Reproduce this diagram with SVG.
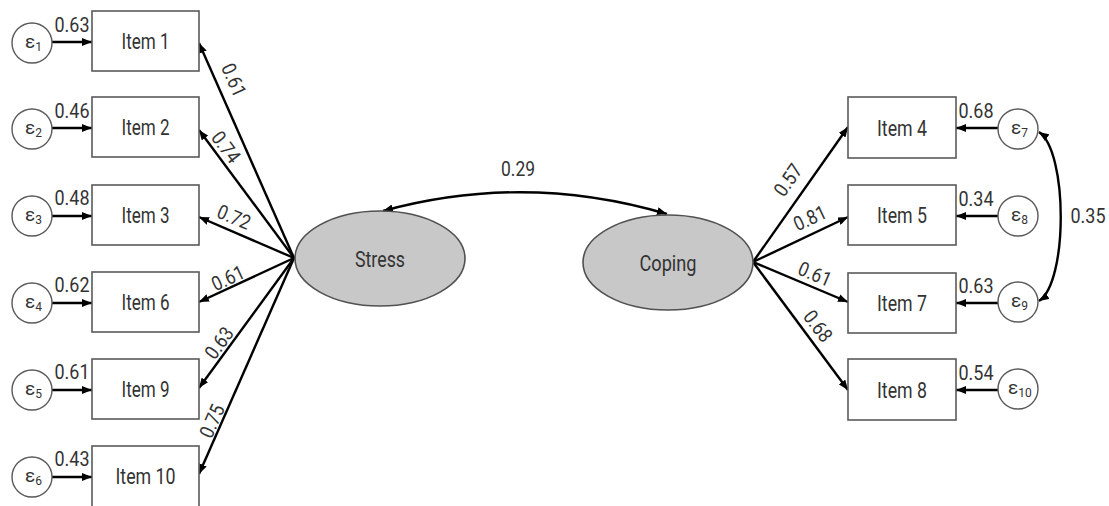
<svg xmlns="http://www.w3.org/2000/svg" width="1109" height="506" viewBox="0 0 1109 506">
<style>
.box{fill:#fff;stroke:#5a5a5a;stroke-width:1.6}
.err{fill:#fff;stroke:#5a5a5a;stroke-width:1.4}
.lat{fill:#c8c8c8;stroke:#505050;stroke-width:1.6}
.ln{fill:none;stroke:#000;stroke-width:2.4;marker-end:url(#ah)}
.cv{fill:none;stroke:#000;stroke-width:2.4;marker-start:url(#ah2);marker-end:url(#ah)}
text{font-family:Roboto,"Liberation Sans",sans-serif;fill:#333}
.it{font-size:22px;text-anchor:middle}
.num{font-size:20px;text-anchor:middle}
.eps{font-size:19px}
.sub{font-size:12px}
</style>
<defs>
<marker id="ah" markerUnits="userSpaceOnUse" markerWidth="10" markerHeight="8" refX="10" refY="4" orient="auto"><path d="M0,0 L10,4 L0,8 z" fill="#000"/></marker>
<marker id="ah2" markerUnits="userSpaceOnUse" markerWidth="10" markerHeight="8" refX="10" refY="4" orient="auto-start-reverse"><path d="M0,0 L10,4 L0,8 z" fill="#000"/></marker>
</defs>
<g id="connectors">
<!-- error arrows left -->
<line class="ln" x1="52" y1="42" x2="92" y2="42"/>
<line class="ln" x1="52" y1="128" x2="92" y2="128"/>
<line class="ln" x1="52" y1="216" x2="92" y2="216"/>
<line class="ln" x1="52" y1="303" x2="92" y2="303"/>
<line class="ln" x1="52" y1="390" x2="92" y2="390"/>
<line class="ln" x1="52" y1="477" x2="92" y2="477"/>
<!-- loadings Stress -->
<line class="ln" x1="294" y1="258" x2="199" y2="43"/>
<line class="ln" x1="294" y1="258" x2="199" y2="130"/>
<line class="ln" x1="294" y1="258" x2="199" y2="217"/>
<line class="ln" x1="294" y1="258" x2="199" y2="302"/>
<line class="ln" x1="294" y1="258" x2="199" y2="388"/>
<line class="ln" x1="294" y1="258" x2="199" y2="474"/>
<!-- loadings Coping -->
<line class="ln" x1="753" y1="262" x2="848" y2="127"/>
<line class="ln" x1="753" y1="262" x2="848" y2="217"/>
<line class="ln" x1="753" y1="262" x2="848" y2="302"/>
<line class="ln" x1="753" y1="262" x2="848" y2="390"/>
<!-- error arrows right -->
<line class="ln" x1="998" y1="128" x2="956" y2="128"/>
<line class="ln" x1="998" y1="216" x2="956" y2="216"/>
<line class="ln" x1="998" y1="303" x2="956" y2="303"/>
<line class="ln" x1="998" y1="390" x2="956" y2="390"/>
<!-- covariances -->
<path class="cv" d="M383,211 Q525,172 667,214"/>
<path class="cv" d="M1039,132 C1068,152 1068,282 1039,301"/>
<!-- labels -->
<text class="num" x="72" y="32" textLength="35" lengthAdjust="spacingAndGlyphs">0.63</text>
<text class="num" x="72" y="118" textLength="35" lengthAdjust="spacingAndGlyphs">0.46</text>
<text class="num" x="72" y="205" textLength="35" lengthAdjust="spacingAndGlyphs">0.48</text>
<text class="num" x="72" y="292" textLength="35" lengthAdjust="spacingAndGlyphs">0.62</text>
<text class="num" x="72" y="379" textLength="35" lengthAdjust="spacingAndGlyphs">0.61</text>
<text class="num" x="72" y="466" textLength="35" lengthAdjust="spacingAndGlyphs">0.43</text>
<text class="num" transform="translate(234,80) rotate(66)" x="0" y="7" textLength="34" lengthAdjust="spacingAndGlyphs">0.61</text>
<text class="num" transform="translate(226,147) rotate(53)" x="0" y="7" textLength="34" lengthAdjust="spacingAndGlyphs">0.74</text>
<text class="num" transform="translate(234,217) rotate(23)" x="0" y="7" textLength="34" lengthAdjust="spacingAndGlyphs">0.72</text>
<text class="num" transform="translate(228,278) rotate(-25)" x="0" y="7" textLength="34" lengthAdjust="spacingAndGlyphs">0.61</text>
<text class="num" transform="translate(219,343) rotate(-54)" x="0" y="7" textLength="34" lengthAdjust="spacingAndGlyphs">0.63</text>
<text class="num" transform="translate(212,421) rotate(-66)" x="0" y="7" textLength="34" lengthAdjust="spacingAndGlyphs">0.75</text>
<text class="num" transform="translate(788,180) rotate(-55)" x="0" y="7" textLength="34" lengthAdjust="spacingAndGlyphs">0.57</text>
<text class="num" transform="translate(810,218) rotate(-25)" x="0" y="7" textLength="34" lengthAdjust="spacingAndGlyphs">0.81</text>
<text class="num" transform="translate(815,274) rotate(23)" x="0" y="7" textLength="34" lengthAdjust="spacingAndGlyphs">0.61</text>
<text class="num" transform="translate(818,326) rotate(53)" x="0" y="7" textLength="34" lengthAdjust="spacingAndGlyphs">0.68</text>
<text class="num" x="976" y="118" textLength="35" lengthAdjust="spacingAndGlyphs">0.68</text>
<text class="num" x="976" y="206" textLength="35" lengthAdjust="spacingAndGlyphs">0.34</text>
<text class="num" x="976" y="293" textLength="35" lengthAdjust="spacingAndGlyphs">0.63</text>
<text class="num" x="976" y="380" textLength="35" lengthAdjust="spacingAndGlyphs">0.54</text>
<text class="num" x="518" y="176" textLength="34" lengthAdjust="spacingAndGlyphs">0.29</text>
<text class="num" x="1088" y="223" textLength="35" lengthAdjust="spacingAndGlyphs">0.35</text>
</g>
<g id="item1"><rect class="box" x="92" y="11" width="107" height="60"/><text class="it" x="145.5" y="49" textLength="48" lengthAdjust="spacingAndGlyphs">Item 1</text></g>
<g id="item2"><rect class="box" x="92" y="97" width="107" height="60"/><text class="it" x="145.5" y="135" textLength="48" lengthAdjust="spacingAndGlyphs">Item 2</text></g>
<g id="item3"><rect class="box" x="92" y="185" width="107" height="60"/><text class="it" x="145.5" y="223" textLength="48" lengthAdjust="spacingAndGlyphs">Item 3</text></g>
<g id="item6"><rect class="box" x="92" y="272" width="107" height="60"/><text class="it" x="145.5" y="310" textLength="48" lengthAdjust="spacingAndGlyphs">Item 6</text></g>
<g id="item9"><rect class="box" x="92" y="359" width="107" height="60"/><text class="it" x="145.5" y="397" textLength="48" lengthAdjust="spacingAndGlyphs">Item 9</text></g>
<g id="item10"><rect class="box" x="92" y="446" width="107" height="62"/><text class="it" x="145.5" y="484" textLength="60" lengthAdjust="spacingAndGlyphs">Item 10</text></g>
<g id="item4"><rect class="box" x="848" y="97" width="108" height="61"/><text class="it" x="902" y="136" textLength="50" lengthAdjust="spacingAndGlyphs">Item 4</text></g>
<g id="item5"><rect class="box" x="848" y="185" width="108" height="60"/><text class="it" x="902" y="223" textLength="50" lengthAdjust="spacingAndGlyphs">Item 5</text></g>
<g id="item7"><rect class="box" x="848" y="273" width="108" height="60"/><text class="it" x="902" y="311" textLength="50" lengthAdjust="spacingAndGlyphs">Item 7</text></g>
<g id="item8"><rect class="box" x="848" y="359" width="108" height="61"/><text class="it" x="902" y="398" textLength="50" lengthAdjust="spacingAndGlyphs">Item 8</text></g>
<g id="stress"><ellipse class="lat" cx="380" cy="258.5" rx="85" ry="47.5"/><text class="it" x="380" y="267" textLength="50" lengthAdjust="spacingAndGlyphs">Stress</text></g>
<g id="coping"><ellipse class="lat" cx="668" cy="262.5" rx="85" ry="47.5"/><text class="it" x="668" y="271" textLength="57" lengthAdjust="spacingAndGlyphs">Coping</text></g>
<g id="e1"><circle class="err" cx="32" cy="43" r="20"/><text x="25" y="48"><tspan class="eps">ε</tspan><tspan class="sub" dy="3">1</tspan></text></g>
<g id="e2"><circle class="err" cx="32" cy="129" r="20"/><text x="25" y="134"><tspan class="eps">ε</tspan><tspan class="sub" dy="3">2</tspan></text></g>
<g id="e3"><circle class="err" cx="32" cy="216" r="20"/><text x="25" y="221"><tspan class="eps">ε</tspan><tspan class="sub" dy="3">3</tspan></text></g>
<g id="e4"><circle class="err" cx="32" cy="303" r="20"/><text x="25" y="308"><tspan class="eps">ε</tspan><tspan class="sub" dy="3">4</tspan></text></g>
<g id="e5"><circle class="err" cx="32" cy="390" r="20"/><text x="25" y="395"><tspan class="eps">ε</tspan><tspan class="sub" dy="3">5</tspan></text></g>
<g id="e6"><circle class="err" cx="32" cy="477" r="20"/><text x="25" y="482"><tspan class="eps">ε</tspan><tspan class="sub" dy="3">6</tspan></text></g>
<g id="e7"><circle class="err" cx="1018" cy="129" r="20"/><text x="1011" y="134"><tspan class="eps">ε</tspan><tspan class="sub" dy="3">7</tspan></text></g>
<g id="e8"><circle class="err" cx="1018" cy="216" r="20"/><text x="1011" y="221"><tspan class="eps">ε</tspan><tspan class="sub" dy="3">8</tspan></text></g>
<g id="e9"><circle class="err" cx="1018" cy="302" r="20"/><text x="1011" y="307"><tspan class="eps">ε</tspan><tspan class="sub" dy="3">9</tspan></text></g>
<g id="e10"><circle class="err" cx="1018" cy="389" r="20"/><text x="1008" y="394"><tspan class="eps">ε</tspan><tspan class="sub" dy="3">10</tspan></text></g>
</svg>
